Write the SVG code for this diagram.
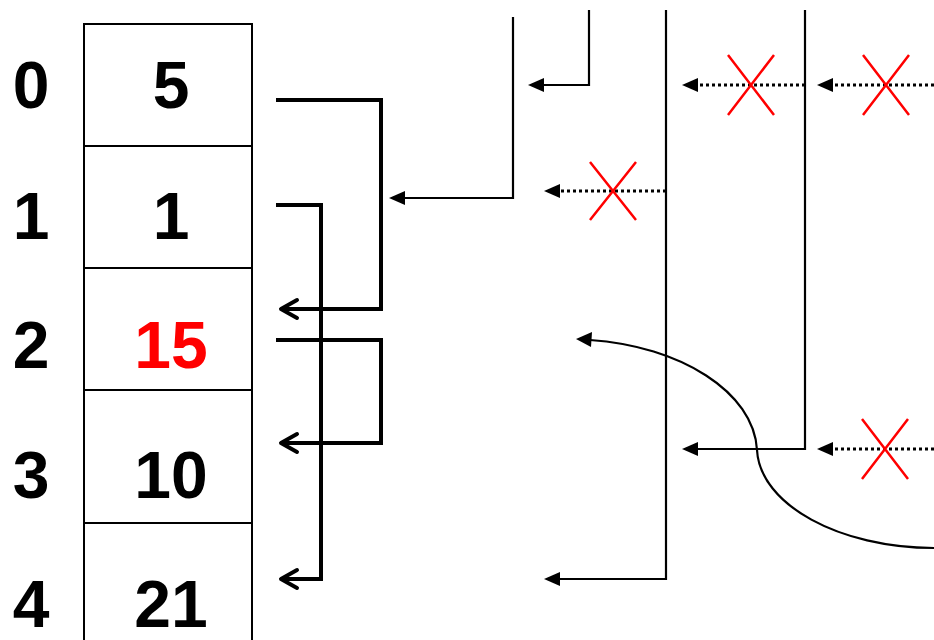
<svg xmlns="http://www.w3.org/2000/svg" width="934" height="640" viewBox="0 0 934 640">
<style>
.cell{fill:#fff;stroke:#000;stroke-width:2}
.t{font-family:"Liberation Sans",Arial,sans-serif;font-weight:bold;font-size:66px;text-anchor:middle;fill:#000}
.thick{fill:none;stroke:#000;stroke-width:4}
.chev{fill:none;stroke:#000;stroke-width:4;stroke-linecap:round;stroke-linejoin:round}
.thin{fill:none;stroke:#000;stroke-width:2.2}
.dot{fill:none;stroke:#000;stroke-width:3;stroke-dasharray:3 3}
.x{stroke:#f00;stroke-width:2.5;fill:none}
.head{fill:#000}
</style>
<g id="array">
<rect class="cell" x="84" y="24" width="168" height="122"/>
<rect class="cell" x="84" y="146" width="168" height="122"/>
<rect class="cell" x="84" y="268" width="168" height="122"/>
<rect class="cell" x="84" y="390" width="168" height="133"/>
<rect class="cell" x="84" y="523" width="168" height="130"/>
</g>
<g id="labels">
<text class="t" x="31" y="108">0</text>
<text class="t" x="31" y="239">1</text>
<text class="t" x="31" y="368">2</text>
<text class="t" x="31" y="498">3</text>
<text class="t" x="31" y="627">4</text>
</g>
<g id="values">
<text class="t" x="171" y="108">5</text>
<text class="t" x="171" y="239">1</text>
<text class="t" x="171" y="368" style="fill:#f00">15</text>
<text class="t" x="171" y="498">10</text>
<text class="t" x="171" y="627">21</text>
</g>
<g id="connectors">
<path class="thick" d="M276,100 H381 V309 H282"/>
<path class="chev" d="M297,300 L281,309 L297,318"/>
<path class="thick" d="M276,205 H321 V579 H282"/>
<path class="chev" d="M297,570 L281,579 L297,588"/>
<path class="thick" d="M276,340 H381 V443 H282"/>
<path class="chev" d="M297,434 L281,443 L297,452"/>

<path class="thin" d="M513,17 V198 H404"/>
<path class="head" d="M389,198 L405,191 L405,205 Z"/>
<path class="thin" d="M589,10 V85 H543"/>
<path class="head" d="M528,85 L544,78 L544,92 Z"/>
<path class="thin" d="M666,10 V579 H559"/>
<path class="head" d="M544,579 L560,572 L560,586 Z"/>
<path class="thin" d="M805,10 V449 H697"/>
<path class="head" d="M682,449 L698,442 L698,456 Z"/>

<path class="dot" d="M666,191 H560"/>
<path class="head" d="M544,191 L560,184 L560,198 Z"/>
<path class="dot" d="M805,85 H697"/>
<path class="head" d="M682,85 L698,78 L698,92 Z"/>
<path class="dot" d="M934,85 H832"/>
<path class="head" d="M817,85 L833,78 L833,92 Z"/>
<path class="dot" d="M934,449 H832"/>
<path class="head" d="M817,449 L833,442 L833,456 Z"/>

<path class="thin" d="M934,548 C840,548 760,505 757,450 C754,392 680,346 590,340"/>
<path class="head" d="M576,339 L592,332 L591,347 Z"/>
</g>
<g id="crosses">
<path class="x" d="M590,162 L636,220 M636,162 L590,220"/>
<path class="x" d="M728,55 L774,115 M774,55 L728,115"/>
<path class="x" d="M863,55 L909,115 M909,55 L863,115"/>
<path class="x" d="M862,419 L908,479 M908,419 L862,479"/>
</g>
</svg>
